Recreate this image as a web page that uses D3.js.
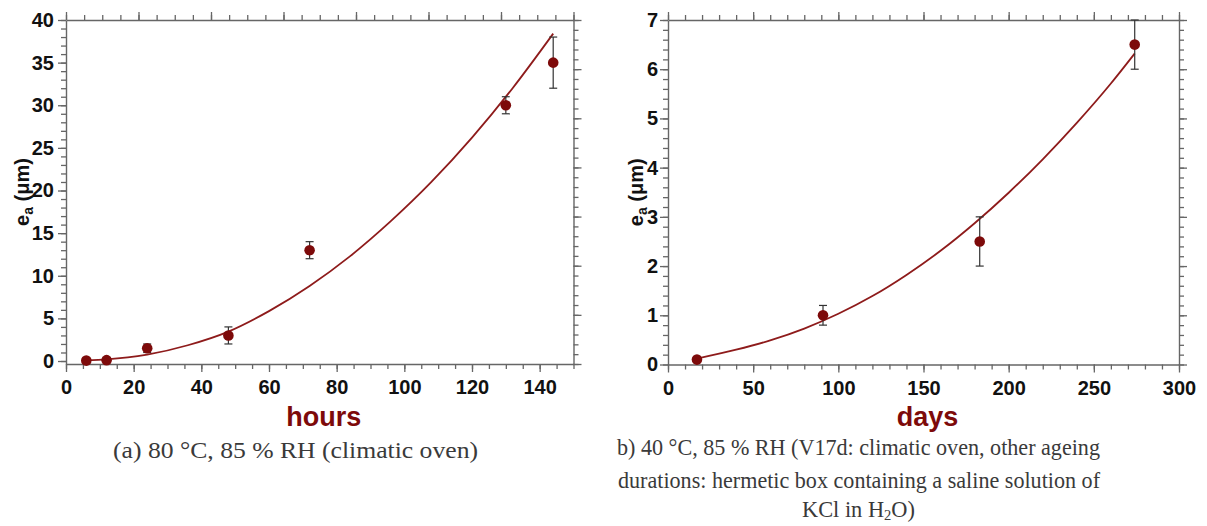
<!DOCTYPE html>
<html>
<head>
<meta charset="utf-8">
<script src="https://cdn.jsdelivr.net/npm/d3@7"></script>
<style>
  html, body { margin: 0; padding: 0; background: #fff; }
  #chart { width: 1207px; height: 526px; }
</style>
</head>
<body>
<div id="chart"></div>
<script>
// Two panels: ea growth vs ageing time (hours at 80 °C, days at 40 °C)

// panel (a): hours
const hoursT = [6, 12, 24, 48, 72, 130, 144]
const hoursEa = [0.05, 0.1, 1.5, 3, 13, 30, 35]
const hoursErr = [0.3, 0.3, 0.5, 1, 1, 1, 3]
// fitted curve
const hoursFitT = [6, 12, 24, 36, 48, 60, 72, 84, 96, 108, 120, 132, 144]
const hoursFitEa = [0.1, 0.2, 0.75, 1.85, 3.45, 5.85, 8.8, 12.3, 16.4, 21, 26.2, 32, 38.4]
const hoursXTicks = [0, 20, 40, 60, 80, 100, 120, 140]
const hoursYTicks = [0, 5, 10, 15, 20, 25, 30, 35, 40]

// panel (b): days
const daysT = [17, 91, 183, 274]
const daysEa = [0.1, 1, 2.5, 6.5]
const daysErr = [0.05, 0.2, 0.5, 0.5]
const daysFitT = [17, 40, 60, 80, 100, 120, 140, 160, 180, 200, 220, 240, 260, 274]
const daysFitEa = [0.12, 0.3, 0.49, 0.73, 1.03, 1.39, 1.82, 2.31, 2.87, 3.49, 4.17, 4.91, 5.71, 6.32]
const daysXTicks = [0, 50, 100, 150, 200, 250, 300]
const daysYTicks = [0, 1, 2, 3, 4, 5, 6, 7]

const DARK_RED = "#7d0a0a"
const AXIS = "#666"

const svg = d3.select("#chart")
  .append("svg")
  .attr("xmlns", "http://www.w3.org/2000/svg")
  .attr("width", 1207)
  .attr("height", 526)

function styleAxis(g) {
  g.select(".domain").attr("stroke", AXIS).attr("stroke-width", 1.4)
  g.selectAll(".tick line").attr("stroke", AXIS).attr("stroke-width", 1.3)
  g.selectAll(".tick text")
    .attr("fill", "#111")
    .style("font-family", "'Liberation Sans', Arial, sans-serif")
    .style("font-weight", "bold")
    .style("font-size", "20px")
}

// major + minor ticks on one side
function addAxis(axisFn, scale, major, minor, pos, labels, padding) {
  const minorG = svg.append("g").attr("transform", pos)
    .call(axisFn(scale).tickValues(minor).tickSize(5).tickFormat(""))
  minorG.select(".domain").remove()
  styleAxis(minorG)
  const majorG = svg.append("g").attr("transform", pos)
    .call(axisFn(scale).tickValues(major).tickSize(8).tickSizeOuter(0)
      .tickPadding(padding || 4)
      .tickFormat(labels ? d3.format("d") : ""))
  styleAxis(majorG)
}

function drawPanel(p) {
  const x = d3.scaleLinear().domain(p.xDomain).range([p.left, p.right])
  const y = d3.scaleLinear().domain(p.yDomain).range([p.bottom, p.top])

  // secondary axes (top / right) have their own divisions
  const xTop = d3.scaleLinear().domain(p.topDomain).range([p.left, p.right])
  const yRight = d3.scaleLinear().domain(p.rightDomain).range([p.bottom, p.top])

  addAxis(d3.axisLeft, y, p.yTicks, d3.range(p.yTicks[0], p.yDomain[1] + 1e-9, p.yMinor),
    `translate(${p.left},0)`, true, p.yPad)
  addAxis(d3.axisBottom, x, p.xTicks, d3.range(0, p.xDomain[1] + 1e-9, p.xMinor),
    `translate(0,${p.bottom})`, true, 8)
  addAxis(d3.axisTop, xTop, d3.range(p.topDomain[0], p.topDomain[1] + 1e-9, p.topMajor),
    d3.range(p.topDomain[0], p.topDomain[1] + 1e-9, p.topMinor),
    `translate(0,${p.top})`, false)
  addAxis(d3.axisRight, yRight, d3.range(p.rightDomain[0], p.rightDomain[1] + 1e-9, p.rightMajor),
    d3.range(p.rightDomain[0], p.rightDomain[1] + 1e-9, p.rightMinor),
    `translate(${p.right},0)`, false)

  // fit curve
  const line = d3.line()
    .x(d => x(d[0]))
    .y(d => y(d[1]))
    .curve(d3.curveMonotoneX)
  svg.append("path")
    .datum(d3.zip(p.fitT, p.fitEa))
    .attr("fill", "none")
    .attr("stroke", "#8e1b1b")
    .attr("stroke-width", 1.8)
    .attr("d", line)

  const pts = p.t.map((t, i) => ({ t: t, v: p.ea[i], e: p.err[i] }))

  // error bars
  const bars = svg.append("g").attr("stroke", "#333").attr("stroke-width", 1.2)
  bars.selectAll("line.v").data(pts).enter().append("line")
    .attr("x1", d => x(d.t)).attr("x2", d => x(d.t))
    .attr("y1", d => y(d.v - d.e)).attr("y2", d => y(d.v + d.e))
  bars.selectAll("line.lo").data(pts).enter().append("line")
    .attr("x1", d => x(d.t) - 4).attr("x2", d => x(d.t) + 4)
    .attr("y1", d => y(d.v - d.e)).attr("y2", d => y(d.v - d.e))
  bars.selectAll("line.hi").data(pts).enter().append("line")
    .attr("x1", d => x(d.t) - 4).attr("x2", d => x(d.t) + 4)
    .attr("y1", d => y(d.v + d.e)).attr("y2", d => y(d.v + d.e))

  svg.append("g").selectAll("circle").data(pts).enter().append("circle")
    .attr("cx", d => x(d.t))
    .attr("cy", d => y(d.v))
    .attr("r", 5.3)
    .attr("fill", DARK_RED)

  // axis titles
  const yl = svg.append("text")
    .attr("transform", `translate(${p.yLabelX},${(p.top + p.bottom) / 2}) rotate(-90)`)
    .attr("text-anchor", "middle")
    .style("font-family", "'Liberation Sans', Arial, sans-serif")
    .style("font-weight", "bold")
    .style("font-size", "20px")
    .attr("fill", "#111")
  yl.append("tspan").text("e")
  yl.append("tspan").attr("baseline-shift", "-25%").style("font-size", "14px").text("a")
  yl.append("tspan").text(" (μm)")

  svg.append("text")
    .attr("x", (p.left + p.right) / 2 + 4)
    .attr("y", 426)
    .attr("text-anchor", "middle")
    .style("font-family", "'Liberation Sans', Arial, sans-serif")
    .style("font-weight", "bold")
    .style("font-size", "27px")
    .attr("fill", DARK_RED)
    .text(p.xLabel)
}

drawPanel({
  left: 66, right: 573.5, top: 20, bottom: 364,
  xDomain: [0, 150], yDomain: [-0.35, 40],
  xTicks: hoursXTicks, xMinor: 5,
  yTicks: hoursYTicks, yMinor: 1, yPad: 4,
  topDomain: [0, 7], topMajor: 1, topMinor: 0.25,
  rightDomain: [0, 7], rightMajor: 1, rightMinor: 0.2,
  t: hoursT, ea: hoursEa, err: hoursErr,
  fitT: hoursFitT, fitEa: hoursFitEa,
  yLabelX: 29, xLabel: "hours"
})

drawPanel({
  left: 668, right: 1179, top: 20, bottom: 364.5,
  xDomain: [0, 300], yDomain: [0, 7],
  xTicks: daysXTicks, xMinor: 10,
  yTicks: daysYTicks, yMinor: 0.2, yPad: 2,
  topDomain: [0, 300], topMajor: 50, topMinor: 10,
  rightDomain: [0, 7], rightMajor: 1, rightMinor: 0.2,
  t: daysT, ea: daysEa, err: daysErr,
  fitT: daysFitT, fitEa: daysFitEa,
  yLabelX: 643, xLabel: "days"
})

// captions
function caption(cx, y, len) {
  return svg.append("text")
    .attr("x", cx).attr("y", y)
    .attr("text-anchor", "middle")
    .attr("textLength", len)
    .attr("lengthAdjust", "spacingAndGlyphs")
    .style("font-family", "'Liberation Serif', 'Times New Roman', serif")
    .style("font-size", "23px")
    .attr("fill", "#3a3a3a")
}
caption(295.5, 458, 365).text("(a)  80 °C, 85 % RH (climatic oven)")
caption(858.5, 455, 483).text("b)  40 °C, 85 % RH (V17d: climatic oven, other ageing")
caption(859, 488, 482).text("durations: hermetic box containing a saline solution of")

const last = caption(858.5, 517, 113)
last.append("tspan").text("KCl in H")
last.append("tspan").attr("baseline-shift", "-22%").style("font-size", "15px").text("2")
last.append("tspan").text("O)")
</script>
</body>
</html>
